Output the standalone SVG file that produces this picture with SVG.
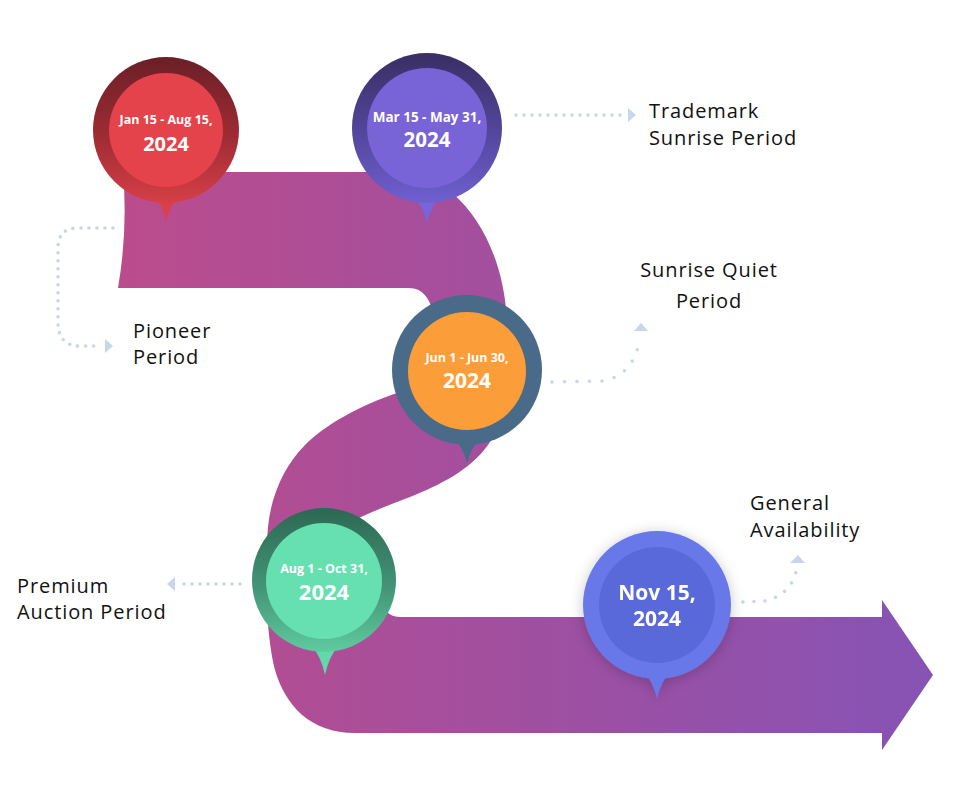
<svg xmlns="http://www.w3.org/2000/svg" width="966" height="802" viewBox="0 0 966 802">
<defs>
<style>
.lbl{font-family:"Open Sans","Liberation Sans",sans-serif;font-weight:500;font-size:20px;letter-spacing:0.9px;fill:#111}
.d1{font-family:"Open Sans","Liberation Sans",sans-serif;font-weight:700;font-size:12.5px;fill:#fff;text-anchor:middle}
.yr{font-family:"Open Sans","Liberation Sans",sans-serif;font-weight:700;font-size:21px;fill:#fff;text-anchor:middle}
.dot{fill:none;stroke:#c7d6e8;stroke-width:3.6;stroke-linecap:round}
.tri{fill:#c7d6e8}
</style>
<linearGradient id="rib" gradientUnits="userSpaceOnUse" x1="118" y1="0" x2="933" y2="0">
<stop offset="0" stop-color="#bb4c8c"/><stop offset="1" stop-color="#8653b4"/>
</linearGradient>
<linearGradient id="gRed" x1="0" y1="0" x2="0" y2="1">
<stop offset="0" stop-color="#6a1f27"/><stop offset="0.55" stop-color="#9f2c34"/><stop offset="1" stop-color="#d63f46"/>
</linearGradient>
<linearGradient id="gPur" x1="0" y1="0" x2="0" y2="1">
<stop offset="0" stop-color="#3a2e64"/><stop offset="0.55" stop-color="#54479e"/><stop offset="1" stop-color="#705fd0"/>
</linearGradient>
<linearGradient id="gGrn" x1="0" y1="0" x2="0" y2="1">
<stop offset="0" stop-color="#2c6853"/><stop offset="0.55" stop-color="#439477"/><stop offset="1" stop-color="#5fcb9f"/>
</linearGradient>
<filter id="sh" x="-40%" y="-40%" width="180%" height="180%">
<feDropShadow dx="0" dy="2" stdDeviation="7" flood-color="#000" flood-opacity="0.22"/>
</filter>
</defs>
<rect width="966" height="802" fill="#fff"/>

<g id="ribbon">
<path fill="url(#rib)" d="M123,172 L400,172 C450,172 502,230 507,320 C510,380 505,420 488,445 C470,470 440,485 410,497 C390,505 370,512 355,520 L372,560 Q374,617 400,617 L882,617 L882,600 L933,675 L882,750 L882,733 L355,733 C310,733 285,705 275,670 C266,635 264,570 268,527 C271,495 285,465 305,445 C325,425 360,405 400,392 L437,330 C432,300 425,288 408,288 L118,288 Q128,230 123,172 Z"/>
</g>

<g id="connectors">
<path class="dot" stroke-dasharray="0 8" d="M113,228 L78,228 Q58,228 58,248 L58,322 Q58,346 80,346 L100,346"/>
<polygon class="tri" points="105,339 113,346 105,353"/>
<path class="dot" stroke-dasharray="0 8" d="M516,115 L624,115"/>
<polygon class="tri" points="628,108 636,115 628,122"/>
<path class="dot" stroke-dasharray="0 12.5" d="M552,382 L603,381 Q630,376 638,347"/>
<polygon class="tri" points="634,331 648,331 641,323"/>
<path class="dot" stroke-dasharray="0 11" d="M743,602 L765,601 Q790,595 796,572"/>
<polygon class="tri" points="790,563 805,563 798,555"/>
<path class="dot" stroke-dasharray="0 8" d="M240,584 L180,584"/>
<polygon class="tri" points="175,577 167,584 175,591"/>
</g>

<g id="pin-jan">
<path fill="#d8414a" d="M153,195 Q163,205 166,221 Q170,205 180,195 Z"/>
<circle cx="166" cy="130" r="73" fill="url(#gRed)"/>
<circle cx="166" cy="130" r="57" fill="#e4434b"/>
<text class="d1" x="166" y="124">Jan 15 - Aug 15,</text>
<text class="yr" x="166" y="151" style="font-size:20px">2024</text>
</g>

<g id="pin-mar">
<path fill="#7666d9" d="M413,195 Q423,206 427,223 Q431,206 441,195 Z"/>
<circle cx="427" cy="128" r="75" fill="url(#gPur)"/>
<circle cx="427" cy="128" r="60" fill="#7863d7"/>
<text class="d1" x="427" y="122" style="font-size:13.5px">Mar 15 - May 31,</text>
<text class="yr" x="427" y="147" style="font-size:20.5px">2024</text>
</g>

<g id="pin-jun">
<path fill="#496a89" d="M453,437 Q463,447 467,463 Q471,447 481,437 Z"/>
<circle cx="467" cy="370" r="75" fill="#496a89"/>
<circle cx="467" cy="371" r="59" fill="#fb9d38"/>
<text class="d1" x="467" y="362">Jun 1 - Jun 30,</text>
<text class="yr" x="467" y="388">2024</text>
</g>

<g id="pin-aug">
<path fill="#62d9ab" d="M311,645 Q321,656 325,675 Q329,656 339,645 Z"/>
<circle cx="324" cy="580" r="72" fill="url(#gGrn)"/>
<circle cx="324" cy="581" r="58" fill="#66dfb1"/>
<text class="d1" x="324" y="573">Aug 1 - Oct 31,</text>
<text class="yr" x="324" y="600" style="font-size:22px">2024</text>
</g>

<g id="pin-nov" filter="url(#sh)">
<path fill="#6878e8" d="M643,671 Q653,681 657,699 Q661,681 671,671 Z"/>
<circle cx="657" cy="605" r="74" fill="#6878e8"/>
<circle cx="657" cy="605" r="58" fill="#5a69da"/>
<text class="yr" x="657" y="600">Nov 15,</text>
<text class="yr" x="657" y="626">2024</text>
</g>

<g id="label-trademark"><text class="lbl" x="649" y="118">Trademark</text><text class="lbl" x="649" y="145">Sunrise Period</text></g>
<g id="label-pioneer"><text class="lbl" x="133" y="338">Pioneer</text><text class="lbl" x="133" y="364">Period</text></g>
<g id="label-quiet"><text class="lbl" x="709" y="277" text-anchor="middle">Sunrise Quiet</text><text class="lbl" x="709" y="308" text-anchor="middle">Period</text></g>
<g id="label-general"><text class="lbl" x="750" y="510">General</text><text class="lbl" x="750" y="537">Availability</text></g>
<g id="label-premium"><text class="lbl" x="17" y="593">Premium</text><text class="lbl" x="17" y="619">Auction Period</text></g>
</svg>
